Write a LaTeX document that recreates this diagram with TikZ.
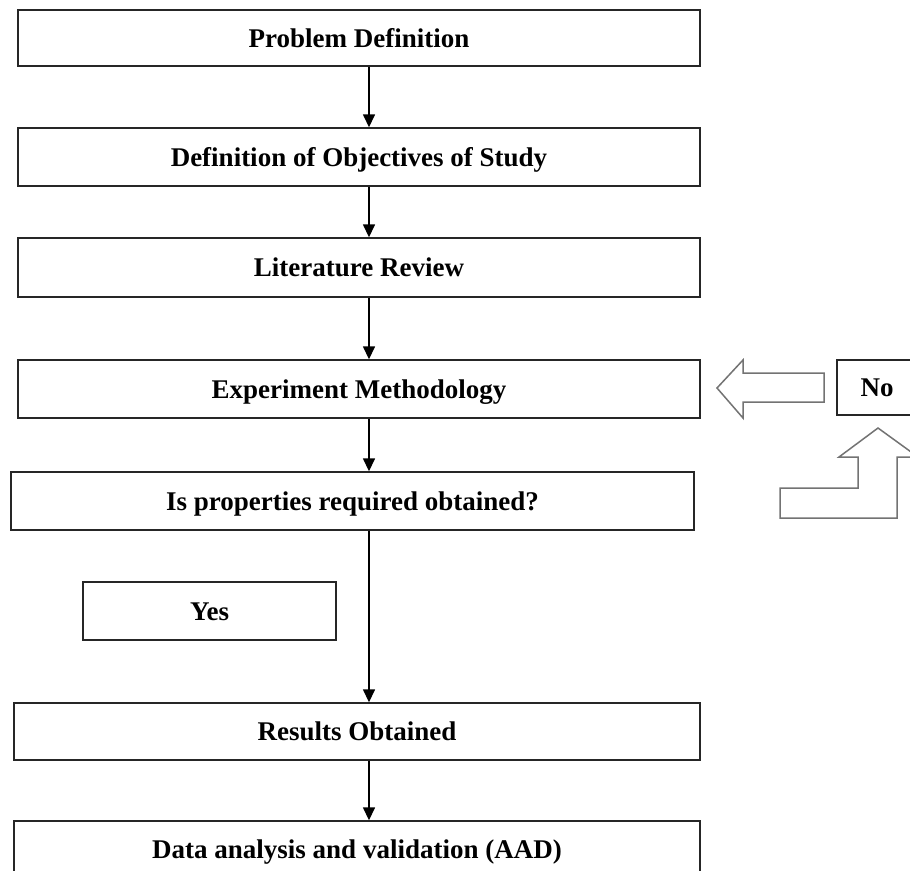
\documentclass[tikz,border=0pt]{standalone}
\usepackage{fontspec}
\setmainfont{Liberation Serif}
\usetikzlibrary{arrows.meta}
\begin{document}
\begin{tikzpicture}[x=1pt,y=-1pt,
  stepbox/.style={draw=black!85, line width=1.4pt, inner sep=0pt, fill=white,
    font=\fontsize{27}{30}\selectfont\bfseries, text height=18.5pt, text depth=0pt,
    minimum height=57pt},
  arr/.style={line width=1.5pt, -{Triangle[width=12pt,length=13pt]}},
  blockarrow/.style={draw=black!55, line width=1.5pt, line join=miter, fill=white}]
\useasboundingbox (0,0) rectangle (910,870);
\node[stepbox, minimum width=682pt, minimum height=56pt] (b1) at (359,38) {Problem Definition};
\node[stepbox, minimum width=682pt, minimum height=58pt] (b2) at (359,157) {Definition of Objectives of Study};
\node[stepbox, minimum width=682pt, minimum height=59pt] (b3) at (359,267.5) {Literature Review};
\node[stepbox, minimum width=682pt, minimum height=58pt] (b4) at (359,389) {Experiment Methodology};
\node[stepbox, minimum width=683pt, minimum height=58pt] (b5) at (352.5,501) {Is properties required obtained?};
\node[stepbox, minimum width=253pt, minimum height=58pt] (yes) at (209.5,611) {Yes};
\node[stepbox, minimum width=686pt, minimum height=57pt] (b6) at (357,731.5) {Results Obtained};
\node[stepbox, minimum width=686pt, minimum height=57pt] (b7) at (357,849.5) {Data analysis and validation (AAD)};
\node[stepbox, minimum width=80pt, minimum height=55pt] (no) at (877,387.5) {No};
\coordinate (ax) at (369,0);
\draw[arr] (b1.south -| ax) -- (b2.north -| ax);
\draw[arr] (b2.south -| ax) -- (b3.north -| ax);
\draw[arr] (b3.south -| ax) -- (b4.north -| ax);
\draw[arr] (b4.south -| ax) -- (b5.north -| ax);
\draw[arr] (b5.south -| ax) -- (b6.north -| ax);
\draw[arr] (b6.south -| ax) -- (b7.north -| ax);
% hollow block arrow pointing left (No -> Experiment Methodology)
\draw[blockarrow] (717,388) -- (743,360) -- (743,373) -- (824,373) -- (824,402) -- (743,402) -- (743,418) -- cycle;
% hollow bent-up block arrow
\draw[blockarrow] (878,428) -- (918,457) -- (897,457) -- (897,518) -- (780,518) -- (780,488) -- (858,488) -- (858,457) -- (839,457) -- cycle;
\end{tikzpicture}
\end{document}
